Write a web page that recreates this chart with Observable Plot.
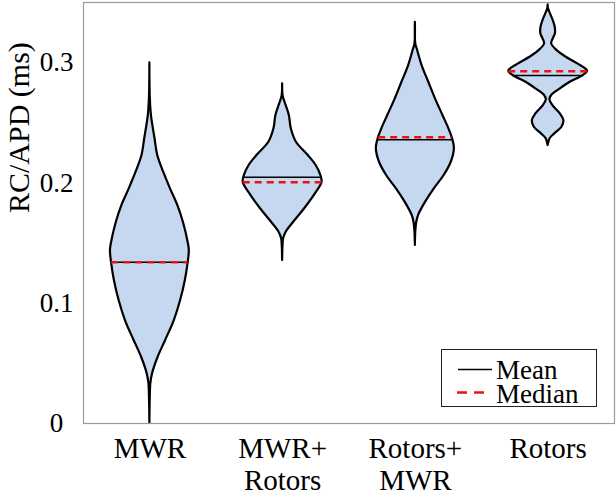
<!DOCTYPE html>
<html><head><meta charset="utf-8">
<script src="https://cdn.jsdelivr.net/npm/d3@7"></script>
<script src="https://cdn.jsdelivr.net/npm/@observablehq/plot@0.6"></script>
<style>
body{margin:0;background:#fff;}
#wrap{position:relative;width:616px;height:494px;font-family:'Liberation Serif','DejaVu Serif',serif;}
#wrap svg, #wrap svg text{font-family:'Liberation Serif','DejaVu Serif',serif !important;}
#legend{position:absolute;left:0;top:0;pointer-events:none;}
</style></head><body><div id="wrap"></div>
<script>
const categories = ["MWR", "MWR+\nRotors", "Rotors+\nMWR", "Rotors"];
const yTicks = [0, 0.1, 0.2, 0.3];
const yTickLabels = ["0", "0.1", "0.2", "0.3"];
// violin profiles: [value, relative density width]
const mwrProfile = [[0,0],[0.0219,0.01],[0.0333,0.025],[0.0416,0.07],[0.0551,0.21],[0.069,0.40],[0.0856,0.62],[0.1022,0.78],[0.1189,0.90],[0.1333,0.97],[0.1438,1.0],[0.1507,0.97],[0.1673,0.85],[0.1812,0.71],[0.1953,0.52],[0.2089,0.35],[0.2228,0.20],[0.2369,0.13],[0.256,0.04],[0.2712,0.01],[0.2998,0]];
const mwrRotorsProfile = [[0.1355,0],[0.148,0.01],[0.1535,0.025],[0.159,0.09],[0.1673,0.28],[0.1785,0.56],[0.1923,0.86],[0.2006,1.0],[0.2062,0.97],[0.2145,0.85],[0.2228,0.65],[0.2338,0.35],[0.245,0.22],[0.256,0.17],[0.2671,0.06],[0.2727,0.01],[0.2824,0]];
const rotorsMwrProfile = [[0.148,0],[0.159,0.01],[0.1673,0.035],[0.1729,0.08],[0.184,0.26],[0.1951,0.48],[0.2062,0.73],[0.2172,0.91],[0.2283,0.99],[0.2372,0.94],[0.245,0.85],[0.256,0.70],[0.2699,0.51],[0.2837,0.34],[0.2976,0.17],[0.3115,0.045],[0.3156,0.01],[0.3336,0]];
const rotorsProfile = [[0.2311,0],[0.2367,0.05],[0.2408,0.17],[0.2463,0.35],[0.2519,0.40],[0.2574,0.31],[0.2643,0.12],[0.2691,0.045],[0.2727,0.09],[0.2782,0.31],[0.2837,0.56],[0.2893,0.89],[0.2929,1.0],[0.299,0.75],[0.3045,0.46],[0.31,0.23],[0.3156,0.09],[0.3198,0.13],[0.324,0.185],[0.3294,0.18],[0.335,0.13],[0.3406,0.06],[0.3447,0.01],[0.348,0]];
const means = [0.134, 0.2047, 0.2358, 0.2893];
const medians = [0.134, 0.2006, 0.238, 0.2929];

const profiles = [mwrProfile, mwrRotorsProfile, rotorsMwrProfile, rotorsProfile];
const W = 0.297;
const rows = profiles.flatMap((p, i) => p.map(([v, d]) => ({c: i + 1, v, d})));
function widthAt(p, v) {
  for (let k = 0; k < p.length - 1; k++) {
    const [v0, d0] = p[k], [v1, d1] = p[k + 1];
    if (v >= v0 && v <= v1) return d0 + (d1 - d0) * (v - v0) / (v1 - v0);
  }
  return 0;
}
const stats = categories.map((c, i) => ({
  c: i + 1, mean: means[i], median: medians[i],
  wMean: widthAt(profiles[i], means[i]), wMedian: widthAt(profiles[i], medians[i])
}));

const FF = "'Liberation Serif', 'DejaVu Serif', serif";
const chart = Plot.plot({
  width: 616, height: 494,
  marginLeft: 83, marginRight: 2, marginTop: 2, marginBottom: 71,
  x: {domain: [0.5, 4.5]},
  y: {domain: [0, 0.35]},
  style: {fontFamily: FF, background: "white", color: "black"},
  marks: [
    Plot.areaX(rows, {y: "v", x1: d => d.c - W * d.d, x2: d => d.c + W * d.d, z: "c",
      fill: "#c5d8f0", stroke: "black", strokeWidth: 2.2, curve: "catmull-rom"}),
    Plot.ruleY(stats, {y: "mean", x1: d => d.c - W * d.wMean, x2: d => d.c + W * d.wMean, stroke: "black", strokeWidth: 1.5}),
    Plot.ruleY(stats, {y: "median", x1: d => d.c - W * d.wMedian, x2: d => d.c + W * d.wMedian, stroke: "#ee1111", strokeWidth: 2.6, strokeDasharray: "7,5"}),
    Plot.frame({stroke: "#9a9a9a", strokeWidth: 1.2}),
    Plot.axisY({ticks: yTicks, tickFormat: d => yTickLabels[yTicks.indexOf(d)], tickSize: 0, tickPadding: 27, textAnchor: "middle", fontSize: 27, label: null}),
    Plot.axisX({ticks: [1, 2, 3, 4], tickFormat: d => categories[d - 1], tickSize: 0, tickPadding: 12, fontSize: 29, lineHeight: 1.1, label: null}),
    Plot.text(["RC/APD (ms)"], {text: d => d, frameAnchor: "left", rotate: -90, dx: -64, fontSize: 30})
  ]
});
const wrap = document.getElementById("wrap");
wrap.appendChild(chart);

const ns = "http://www.w3.org/2000/svg";
const lg = document.createElementNS(ns, "svg");
lg.setAttribute("id", "legend");
lg.setAttribute("width", 616);
lg.setAttribute("height", 494);
lg.innerHTML = `
<rect x="441.5" y="349.5" width="155" height="57" fill="white" stroke="#222" stroke-width="1"/>
<line x1="458" x2="492" y1="369.5" y2="369.5" stroke="black" stroke-width="1.5"/>
<text x="496" y="378.5" font-size="27">Mean</text>
<line x1="457" x2="491" y1="392.5" y2="392.5" stroke="#ee1111" stroke-width="2.6" stroke-dasharray="10,7"/>
<text x="496" y="403" font-size="27">Median</text>`;
wrap.appendChild(lg);
</script>
</body></html>
